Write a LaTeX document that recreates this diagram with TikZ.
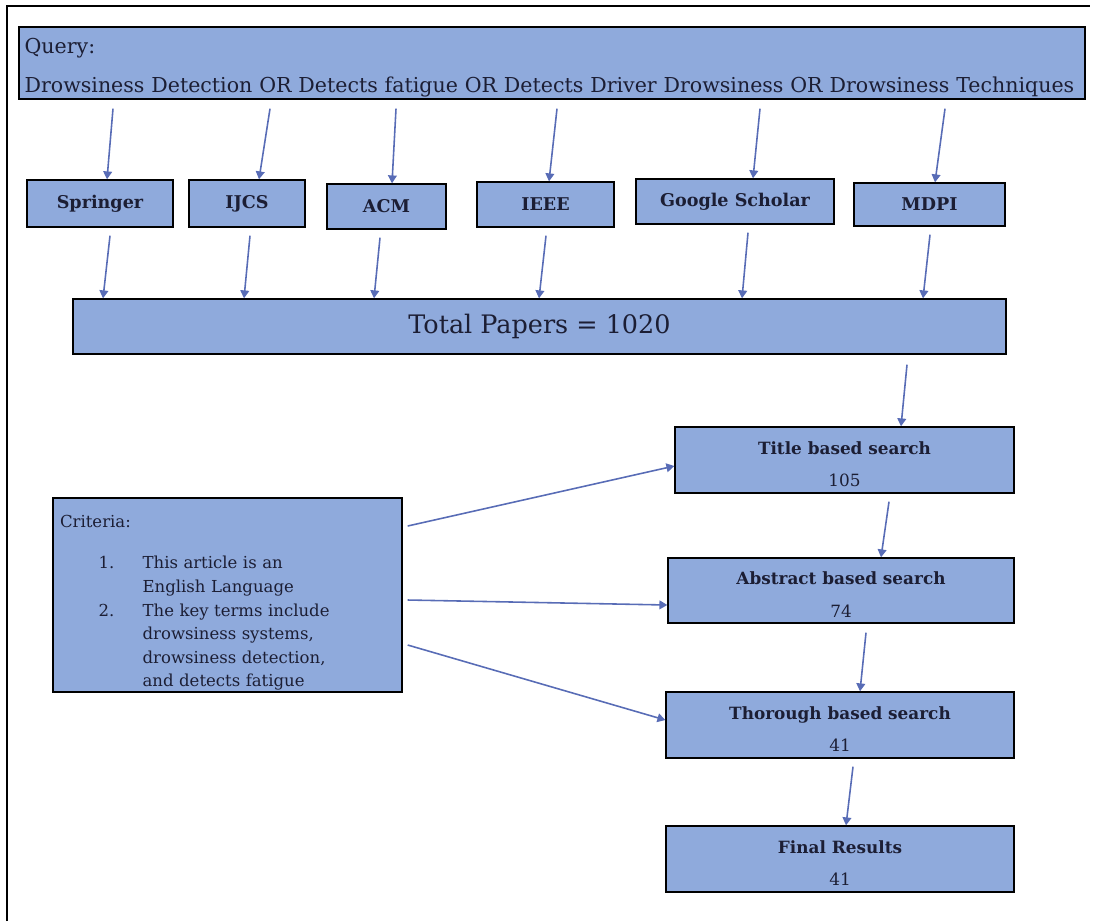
\documentclass[tikz,border=0pt]{standalone}
\usepackage{fontspec}
\setmainfont{DejaVu Serif}
\usetikzlibrary{arrows.meta,calc}

\definecolor{boxblue}{RGB}{143,170,220}
\definecolor{linkblue}{RGB}{88,108,182}
\definecolor{inkblue}{RGB}{28,30,52}

\newcommand{\critem}[2]{\hspace*{22pt}\makebox[25pt][l]{#1}#2}

\begin{document}
\begin{tikzpicture}[x = 0.02cm, y = 0.02cm,
  box/.style = {draw=black, line width=0.8pt, fill=boxblue, inner sep=0pt, text=inkblue},
  srcbox/.style = {box, font=\fontsize{10}{12}\selectfont\bfseries},
  stagebox/.style = {box, align=center, minimum width=6.9cm, minimum height=1.32cm, font=\fontsize{9.6}{18.7}\selectfont},
  link/.style = {draw=linkblue, line width=0.9pt, -{Triangle[width=5pt,length=4.5pt]}},
]

\useasboundingbox (0,0) rectangle (1095,-921);
\draw[line width=1.3pt] (7,-921) -- (7,-6) -- (1090,-6);

\node[box, minimum width=21.32cm, minimum height=1.44cm, align=left, text width=21.1cm, font=\fontsize{11.7}{22.5}\selectfont] (query) at (552,-63)
  {\rule{0pt}{14pt}Query:\\Drowsiness Detection OR Detects fatigue OR Detects Driver Drowsiness OR Drowsiness Techniques};

\node[srcbox, minimum width=2.92cm, minimum height=0.94cm] (springer) at (100,-203.5) {Springer};
\node[srcbox, minimum width=2.32cm, minimum height=0.94cm] (ijcs) at (247,-203.5) {IJCS};
\node[srcbox, minimum width=2.38cm, minimum height=0.9cm] (acm) at (386.5,-206.5) {ACM};
\node[srcbox, minimum width=2.74cm, minimum height=0.9cm] (ieee) at (545.5,-204.5) {IEEE};
\node[srcbox, minimum width=3.96cm, minimum height=0.9cm] (google) at (735,-201.5) {Google Scholar};
\node[srcbox, minimum width=3.02cm, minimum height=0.86cm] (mdpi) at (929.5,-204.5) {MDPI};

\node[box, minimum width=18.66cm, minimum height=1.1cm, font=\fontsize{14.5}{17}\selectfont] (total) at (539.5,-326.5) {Total Papers = 1020};

\node[stagebox, minimum width=6.78cm] (title) at (844.5,-460) {\rule{0pt}{12pt}\textbf{Title based search}\\105};
\node[stagebox, minimum width=6.92cm, minimum height=1.3cm] (abstract) at (841,-590.5) {\rule{0pt}{12pt}\textbf{Abstract based search}\\74};
\node[stagebox, minimum width=6.96cm] (thorough) at (840,-725) {\rule{0pt}{12pt}\textbf{Thorough based search}\\41};
\node[stagebox, minimum width=6.96cm] (final) at (840,-859) {\rule{0pt}{12pt}\textbf{Final Results}\\41};

\node[box, minimum width=6.98cm, minimum height=3.88cm, align=left, text width=6.7cm, font=\fontsize{9.4}{13.4}\selectfont] (criteria) at (227.5,-595)
  {\rule{0pt}{16pt}Criteria:\\[10pt]
   \critem{1.}{This article is an}\\
   \critem{}{English Language}\\
   \critem{2.}{The key terms include}\\
   \critem{}{drowsiness systems,}\\
   \critem{}{drowsiness detection,}\\
   \critem{}{and detects fatigue}};

\draw[link] ($(query.south -| springer.north)+(13,-9)$) -- ($(springer.north)+(7,0)$);
\draw[link] ($(query.south -| ijcs.north)+(23,-9)$) -- ($(ijcs.north)+(12,0)$);
\draw[link] ($(query.south -| acm.north)+(9.5,-9)$) -- ($(acm.north)+(5.5,0)$);
\draw[link] ($(query.south -| ieee.north)+(11.5,-9)$) -- ($(ieee.north)+(3.5,0)$);
\draw[link] ($(query.south -| google.north)+(25,-9)$) -- ($(google.north)+(18,0)$);
\draw[link] ($(query.south -| mdpi.north)+(15.5,-9)$) -- ($(mdpi.north)+(5.5,0)$);

\draw[link] ($(springer.south)+(10,-8)$) -- ($(total.north -| springer.south)+(3,0)$);
\draw[link] ($(ijcs.south)+(3,-8)$) -- ($(total.north -| ijcs.south)+(-3,0)$);
\draw[link] ($(acm.south)+(-6.5,-8)$) -- ($(total.north -| acm.south)+(-12.5,0)$);
\draw[link] ($(ieee.south)+(0.5,-8)$) -- ($(total.north -| ieee.south)+(-6.5,0)$);
\draw[link] ($(google.south)+(13,-8)$) -- ($(total.north -| google.south)+(7,0)$);
\draw[link] ($(mdpi.south)+(0.5,-8)$) -- ($(total.north -| mdpi.south)+(-6.5,0)$);

\draw[link] ($(total.south -| title.north)+(62.5,-10)$) -- ($(title.north)+(56.5,0)$);
\draw[link] ($(title.south)+(44.5,-8)$) -- ($(abstract.north)+(40,0)$);
\draw[link] ($(abstract.south)+(25,-9)$) -- ($(thorough.north)+(20,0)$);
\draw[link] ($(thorough.south)+(13,-8)$) -- ($(final.north)+(6,0)$);

\draw[link] ($(criteria.east)+(5,69)$) -- ($(title.west)+(0,-6)$);
\draw[link] ($(criteria.east)+(5,-5)$) -- ($(abstract.west)+(0,-14.5)$);
\draw[link] ($(criteria.east)+(5,-50)$) -- ($(thorough.west)+(0,5)$);

\end{tikzpicture}
\end{document}
